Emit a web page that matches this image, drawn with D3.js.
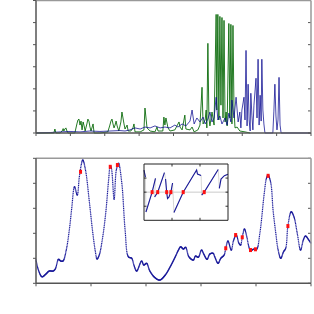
<!DOCTYPE html>
<html>
<head>
<meta charset="utf-8">
<script src="https://cdn.jsdelivr.net/npm/d3@7"></script>
<style>
  body { margin: 0; background: #fff; }
  svg { display: block; }
</style>
</head>
<body>
<div id="chart"></div>
<script>
// ---- top panel: two spectra ----
var greenX = [0, 0.41, 0.52, 0.55, 0.58, 0.70, 0.76, 0.79, 0.81, 0.84, 0.87, 0.90, 0.93, 1.13, 1.19, 1.22, 1.25, 1.28, 1.31, 1.34, 1.37, 1.40, 1.43, 1.48, 1.51, 1.54, 1.57, 1.60, 1.66, 1.69, 1.86, 2.09, 2.15, 2.18, 2.21, 2.24, 2.27, 2.30, 2.33, 2.36, 2.41, 2.47, 2.50, 2.53, 2.56, 2.59, 2.65, 2.68, 2.76, 2.82, 2.85, 2.88, 3.03, 3.14, 3.17, 3.20, 3.23, 3.32, 3.46, 3.52, 3.55, 3.69, 3.72, 3.75, 3.78, 3.84, 3.90, 4.04, 4.10, 4.16, 4.19, 4.25, 4.33, 4.36, 4.48, 4.54, 4.60, 4.71, 4.77, 4.83, 4.86, 4.92, 4.95, 4.97, 5.00, 5.03, 5.06, 5.12, 5.18, 5.24, 5.26, 5.29, 5.32, 5.35, 5.38, 5.41, 5.44, 5.47, 5.50, 5.53, 5.56, 5.61, 5.64, 5.67, 5.70, 5.73, 5.76, 5.79, 5.85, 5.93, 6.08, 6.23];
var greenY = [0, 0, 0, 0.18, 0, 0, 0.09, 0.20, 0.09, 0.18, 0.23, 0.09, 0, 0, 0.41, 0.59, 0.63, 0.36, 0.54, 0.14, 0.50, 0.32, 0.09, 0.41, 0.63, 0.54, 0.27, 0.09, 0.41, 0, 0, 0.05, 0.36, 0.54, 0.63, 0.41, 0.23, 0.36, 0.54, 0.32, 0.09, 0.50, 0.95, 0.68, 0.41, 0.18, 0.36, 0.09, 0.09, 0.23, 0.41, 0.05, 0.05, 0.14, 1.13, 0.68, 0.23, 0.09, 0.05, 0.27, 0.09, 0.09, 0.72, 0.36, 0.68, 0.23, 0.09, 0.14, 0.32, 0.50, 0.27, 0.14, 0.81, 0.18, 0.14, 0.27, 0.05, 0.14, 0.36, 2.07, 0.41, 0.59, 1.04, 0.23, 4.06, 0.68, 0.32, 0.95, 0.36, 5.37, 1.04, 5.37, 0.59, 5.28, 1.26, 5.23, 0.68, 5.10, 0.50, 0.95, 0.32, 4.96, 0.68, 4.92, 0.41, 4.87, 1.04, 0.23, 0.27, 0.09, 0.05, 0];

var blueX = [0, 0.41, 0.70, 0.99, 1.28, 1.57, 1.86, 2.15, 2.44, 2.59, 2.73, 2.88, 3.03, 3.17, 3.32, 3.46, 3.61, 3.75, 3.90, 4.04, 4.13, 4.25, 4.36, 4.48, 4.54, 4.60, 4.68, 4.77, 4.86, 4.92, 5.00, 5.06, 5.12, 5.18, 5.24, 5.29, 5.35, 5.41, 5.50, 5.56, 5.61, 5.67, 5.70, 5.76, 5.82, 5.88, 5.93, 5.96, 5.99, 6.05, 6.08, 6.11, 6.14, 6.17, 6.20, 6.23, 6.25, 6.28, 6.31, 6.34, 6.40, 6.43, 6.46, 6.49, 6.52, 6.55, 6.57, 6.60, 6.63, 6.66, 6.89, 6.92, 6.95, 6.98, 7.01, 7.04, 7.07, 7.10, 7.13, 8];
var blueY = [0, 0.02, 0.05, 0.07, 0.05, 0.09, 0.07, 0.09, 0.11, 0.09, 0.14, 0.23, 0.18, 0.27, 0.23, 0.32, 0.23, 0.27, 0.23, 0.36, 0.27, 0.41, 0.32, 0.54, 1.04, 0.41, 0.68, 0.50, 0.72, 0.41, 0.63, 0.95, 0.50, 0.68, 1.62, 0.59, 0.77, 0.41, 0.68, 0.36, 0.90, 0.50, 1.49, 0.68, 1.62, 0.50, 0.95, 0.23, 1.04, 1.62, 0.59, 3.74, 0.32, 2.21, 0.59, 0.09, 1.80, 0.81, 0.14, 1.26, 2.48, 0.68, 3.34, 0.36, 1.71, 0.54, 3.34, 1.04, 0.41, 0, 0, 0.99, 2.21, 0.77, 0.14, 0.59, 2.52, 0.36, 0, 0];

var topXTicks = [0, 1, 2, 3, 4, 5, 6, 7, 8];
var topYTicks = [0, 1, 2, 3, 4, 5, 6];

// ---- bottom panel: smoothed curve ----
var curveX = [0, 0.05, 0.11, 0.18, 0.24, 0.31, 0.35, 0.41, 0.45, 0.49, 0.55, 0.61, 0.65, 0.70, 0.75, 0.79, 0.85, 0.90, 0.97, 1.03, 1.08, 1.11, 1.15, 1.21, 1.27, 1.32, 1.35, 1.37, 1.42, 1.46, 1.50, 1.56, 1.62, 1.68, 1.74, 1.78, 1.83, 1.92, 1.96, 2.01, 2.07, 2.16, 2.25, 2.35, 2.44, 2.53, 2.59, 2.63, 2.68, 2.72, 2.78, 2.86, 2.90, 2.95, 3.01, 3.05, 3.11, 3.16, 3.22, 3.25, 3.31, 3.36, 3.42, 3.45, 3.49, 3.55, 3.59, 3.64, 3.69, 3.72, 3.75, 3.79, 3.83, 3.87, 3.90, 3.95, 4.01, 4.07, 4.15, 4.19, 4.22, 4.27, 4.31, 4.36, 4.40, 4.45, 4.50, 4.54, 4.58, 4.64, 4.69, 4.75, 4.81, 4.86, 4.90, 4.96, 5.00];
var curveY = [0.93, 0.49, 0.26, 0.37, 0.49, 0.49, 0.57, 0.96, 0.89, 0.89, 1.33, 2.21, 3.01, 3.86, 3.53, 4.29, 4.93, 4.53, 3.26, 2.06, 1.26, 0.97, 1.13, 1.81, 2.86, 4.13, 4.69, 4.61, 3.36, 4.53, 4.80, 4.01, 2.13, 1.06, 1.00, 0.73, 0.49, 0.89, 0.73, 0.80, 0.49, 0.23, 0.13, 0.33, 0.66, 1.05, 1.33, 1.46, 1.37, 1.44, 1.06, 0.93, 1.09, 1.04, 1.33, 1.17, 0.96, 1.17, 1.20, 1.06, 0.80, 1.00, 1.13, 1.40, 1.69, 1.33, 1.70, 1.93, 1.60, 1.53, 1.84, 2.17, 1.89, 1.46, 1.30, 1.36, 1.36, 2.00, 3.60, 4.20, 4.33, 4.00, 2.93, 2.00, 1.36, 1.00, 1.26, 1.40, 2.29, 2.86, 2.66, 2.00, 1.33, 1.73, 1.89, 1.73, 1.60];

var markX = [0.81, 1.35, 1.48, 3.45, 3.63, 3.75, 3.90, 3.99, 4.22, 4.58];
var markY = [4.46, 4.66, 4.73, 1.40, 1.93, 1.84, 1.33, 1.36, 4.30, 2.29];

var botXTicks = [0, 1, 2, 3, 4, 5];
var botYTicks = [0, 1, 2, 3, 4, 5];

// ---- inset: wrapped phase ----
var insetSegments = [
  [[0.00, 1.57], [0.05, 1.07]],
  [[0.07, -1.41], [0.29, 0], [0.41, 0.98]],
  [[0.38, -0.35], [0.49, 0], [0.73, 1.39]],
  [[0.77, 0.93], [0.81, 0], [0.84, -0.45], [0.89, -0.35], [0.96, 0], [1.02, 0.65]],
  [[1.07, -1.44], [1.40, 0], [1.88, 1.57], [1.91, 1.29], [2.04, 1.18]],
  [[2.06, -0.21], [2.15, 0], [2.65, 1.61]],
  [[2.69, 0.27], [2.75, 0.93], [2.87, 1.17], [3.00, 1.27]]
];
var insetMarkX = [0.29, 0.49, 0.81, 0.96, 1.40, 2.15];
var insetXTicks = [1, 2];
var insetYTicks = [-1, 0, 1];

var W = 314, H = 314;
var svg = d3.select('#chart').append('svg').attr('width', W).attr('height', H);

// helper: frame with matlab-ish ticks
function frame(g, x, y, xt, yt, opts) {
  var x0 = x.range()[0], x1 = x.range()[1], y0 = y.range()[0], y1 = y.range()[1];
  var tl = opts.tick;
  g.selectAll('.xt').data(xt).enter().append('line')
    .attr('x1', function(d) { return x(d); }).attr('x2', function(d) { return x(d); })
    .attr('y1', y0).attr('y2', y0 + (opts.outside ? tl : -tl))
    .attr('stroke', opts.tickColor).attr('stroke-width', 1);
  g.selectAll('.yl').data(yt).enter().append('line')
    .attr('x1', x0).attr('x2', x0 + (opts.outside ? -tl : tl))
    .attr('y1', function(d) { return y(d); }).attr('y2', function(d) { return y(d); })
    .attr('stroke', opts.tickColor).attr('stroke-width', 1);
  g.selectAll('.yr').data(yt).enter().append('line')
    .attr('x1', x1).attr('x2', x1 - tl)
    .attr('y1', function(d) { return y(d); }).attr('y2', function(d) { return y(d); })
    .attr('stroke', opts.tickColor).attr('stroke-width', 1);
  if (opts.topTicks) {
    g.selectAll('.xtt').data(xt).enter().append('line')
      .attr('x1', function(d) { return x(d); }).attr('x2', function(d) { return x(d); })
      .attr('y1', y1).attr('y2', y1 + tl)
      .attr('stroke', opts.tickColor).attr('stroke-width', 1);
  }
  // spines
  g.append('line').attr('x1', x0).attr('x2', x1).attr('y1', y1).attr('y2', y1)
    .attr('stroke', opts.lightSpine).attr('stroke-width', opts.sw);
  g.append('line').attr('x1', x1).attr('x2', x1).attr('y1', y0).attr('y2', y1)
    .attr('stroke', opts.lightSpine).attr('stroke-width', opts.sw);
  g.append('line').attr('x1', x0).attr('x2', x1).attr('y1', y0).attr('y2', y0)
    .attr('stroke', opts.darkSpine).attr('stroke-width', opts.sw);
  g.append('line').attr('x1', x0).attr('x2', x0).attr('y1', y0).attr('y2', y1)
    .attr('stroke', opts.darkSpine).attr('stroke-width', opts.sw);
}

//-------- top panel --------
var xTop = d3.scaleLinear().domain([0, 8]).range([36, 311]);
var yTop = d3.scaleLinear().domain([0, 6]).range([133, 0.5]);
var gTop = svg.append('g');

var lineTop = d3.line().x(function(d) { return xTop(d[0]); }).y(function(d) { return yTop(d[1]); });
gTop.append('path').datum(d3.zip(greenX, greenY)).attr('d', lineTop)
  .attr('fill', 'none').attr('stroke', '#006400').attr('stroke-width', 1).attr('stroke-opacity', 0.85);
gTop.append('path').datum(d3.zip(blueX, blueY)).attr('d', lineTop)
  .attr('fill', 'none').attr('stroke', '#00008b').attr('stroke-width', 0.9).attr('stroke-opacity', 0.8);

frame(gTop, xTop, yTop, topXTicks, topYTicks,
  { tick: 3, outside: true, tickColor: '#555', darkSpine: '#555', lightSpine: '#999', sw: 1.5 });

//-------- bottom panel --------
var xBot = d3.scaleLinear().domain([0, 5]).range([36, 311]);
var yBot = d3.scaleLinear().domain([0, 5]).range([283.3, 158.3]);
var gBot = svg.append('g');

var lineBot = d3.line().curve(d3.curveCatmullRom.alpha(0.5))
  .x(function(d) { return xBot(d[0]); }).y(function(d) { return yBot(d[1]); });
var guide = gBot.append('path').datum(d3.zip(curveX, curveY)).attr('d', lineBot)
  .attr('fill', 'none').attr('stroke', 'none');

// sample the curve at even x steps so the steep parts come out dotted
var node = guide.node(), L = node.getTotalLength(), last = null, dots = [];
for (var s = 0; s <= L; s += 0.2) {
  var p = node.getPointAtLength(s);
  if (!last || p.x - last[0] >= 0.25 || Math.abs(p.y - last[1]) >= 1.7) {
    last = [p.x, p.y]; dots.push(last);
  }
}
gBot.selectAll('.dot').data(dots).enter().append('rect')
  .attr('x', function(d) { return d[0] - 0.6; }).attr('y', function(d) { return d[1] - 0.6; })
  .attr('width', 1.2).attr('height', 1.2).attr('fill', '#1a1a9a');

gBot.selectAll('.mark').data(d3.zip(markX, markY)).enter().append('rect')
  .attr('x', function(d) { return xBot(d[0]) - 1.5; }).attr('y', function(d) { return yBot(d[1]) - 2; })
  .attr('width', 3).attr('height', 4).attr('fill', '#ff1010');

frame(gBot, xBot, yBot, botXTicks, botYTicks,
  { tick: 3, outside: true, tickColor: '#555', darkSpine: '#555', lightSpine: '#999', sw: 1.5 });

//-------- inset --------
var xIn = d3.scaleLinear().domain([0, 3]).range([144, 228]);
var yIn = d3.scaleLinear().domain([-2, 2]).range([220.3, 164]);
var gIn = svg.append('g');
gIn.append('rect').attr('x', 144).attr('y', 164).attr('width', 84).attr('height', 56.3).attr('fill', '#fff');

gIn.append('line').attr('x1', xIn(0)).attr('x2', xIn(3)).attr('y1', yIn(0)).attr('y2', yIn(0))
  .attr('stroke', '#bbb').attr('stroke-width', 0.8);

var lineIn = d3.line().x(function(d) { return xIn(d[0]); }).y(function(d) { return yIn(d[1]); });
// wrap connectors in light grey, segments in blue on top
gIn.append('path').datum([].concat.apply([], insetSegments)).attr('d', lineIn)
  .attr('fill', 'none').attr('stroke', '#ccc').attr('stroke-width', 0.8);
gIn.selectAll('.seg').data(insetSegments).enter().append('path').attr('d', lineIn)
  .attr('fill', 'none').attr('stroke', '#1a1a9a').attr('stroke-width', 1.1);

gIn.selectAll('.imark').data(insetMarkX).enter().append('rect')
  .attr('x', function(d) { return xIn(d) - 1.5; }).attr('y', yIn(0) - 2)
  .attr('width', 3).attr('height', 4).attr('fill', '#ff1010');

frame(gIn, xIn, yIn, insetXTicks, insetYTicks,
  { tick: 2.5, outside: false, topTicks: true, tickColor: '#333', darkSpine: '#222', lightSpine: '#222', sw: 1 });
</script>
</body>
</html>
